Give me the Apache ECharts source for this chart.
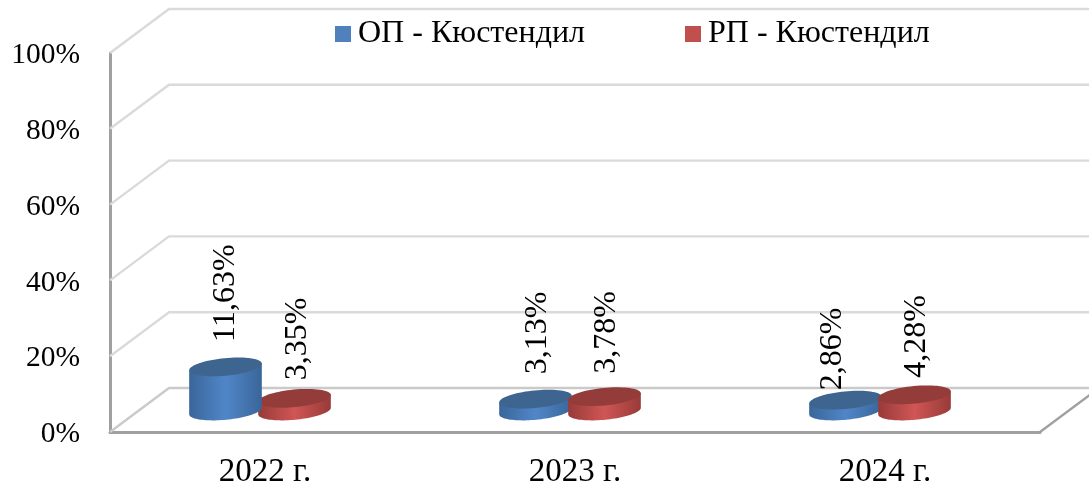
<!DOCTYPE html>
<html><head><meta charset="utf-8">
<style>html,body{margin:0;padding:0;background:#fff}#c{width:1089px;height:484px}</style>
<script src="https://cdn.jsdelivr.net/npm/echarts@6/dist/echarts.min.js"></script>
</head><body><div id="c"></div>
<script>
const categories = ['2022 г.', '2023 г.', '2024 г.'];
const yTicks = [0, 20, 40, 60, 80, 100];
const seriesOP = [11.63, 3.13, 2.86];
const seriesRP = [3.35, 3.78, 4.28];
const nameOP = 'ОП - Кюстендил';
const nameRP = 'РП - Кюстендил';
// label placement tweaks (style only, px): gap above the cylinder top, sideways shift
const gapOP = [25, 25, 10], gapRP = [18, 23, 17];
const shiftOP = [0, 2, -13], shiftRP = [3, 2, 2];

const FONT = '"Liberation Serif","Times New Roman",serif';
const depthX = 59, depthY = -44, baseLift = 21, groupShift = -5, tilt = 5.5 * Math.PI / 180;

function ell(cx, cy, rx, ry, a0, a1, n) {
  const pts = [], c = Math.cos(tilt), s = Math.sin(tilt);
  for (let i = 0; i <= n; i++) {
    const t = a0 + (a1 - a0) * i / n, x = rx * Math.cos(t), y = ry * Math.sin(t);
    pts.push([cx + x * c + y * s, cy - x * s + y * c]);
  }
  return pts;
}
function grad(mid, edge) {
  return { type: 'linear', x: 0, y: 0, x2: 1, y2: 0, colorStops: [
    { offset: 0, color: edge }, { offset: 0.5, color: mid }, { offset: 1, color: edge }] };
}
function cylinder(side, mid, edge, top, gaps, shifts) {
  return function (params, api) {
    const i = api.value(0), v = api.value(1);
    const p = api.coord([i, v]), p0 = api.coord([i, 0]);
    const band = api.size([1, 0])[0];
    const rx = band * 0.1177, ry = rx * 0.24;
    const cx = p[0] + groupShift + side * band * 0.1113;
    const yBase = p0[1] - baseLift, yTop = p[1] - baseLift;
    const body = ell(cx, yTop, rx, ry, Math.PI, Math.PI, 1).slice(0, 1)
      .concat(ell(cx, yBase, rx, ry, Math.PI, 0, 48))
      .concat(ell(cx, yTop, rx, ry, 0, 0, 1).slice(0, 1));
    const z2 = Math.round(v * 100);
    return { type: 'group', children: [
      { type: 'polygon', z2, shape: { points: body }, style: { fill: grad(mid, edge) } },
      { type: 'polygon', z2: z2 + 1, shape: { points: ell(cx, yTop, rx, ry, 0, Math.PI * 2, 72) }, style: { fill: top } },
      { type: 'text', z2: 2000, x: cx + shifts[i], y: yTop - gaps[i], rotation: Math.PI / 2,
        style: { text: v.toFixed(2).replace('.', ',') + '%', font: '32px ' + FONT, fill: '#000', align: 'left', verticalAlign: 'middle' } }
    ] };
  };
}
function wall(params, api) {
  const v = api.value(0), cs = params.coordSys;
  const y = api.coord([0, v])[1], x0 = cs.x, x1 = cs.x + cs.width;
  const line = (pts, col) => ({ type: 'polyline', z2: v === 0 ? 1 : 0, shape: { points: pts }, style: { stroke: col, lineWidth: 2.4, fill: 'none' } });
  const kids = [line([[x0, y], [x0 + depthX, y + depthY], [x1 + depthX, y + depthY]], v === 0 ? '#cacaca' : '#dadada')];
  if (v === 0) kids.push(line([[x1, y], [x1 + depthX, y + depthY]], '#a0a0a0'));
  return { type: 'group', children: kids };
}
const chart = echarts.init(document.getElementById('c'), null, { renderer: 'canvas' });
chart.setOption({
  animation: false,
  backgroundColor: '#fff',
  legend: {
    data: [{ name: nameOP, itemStyle: { color: '#4f81bd' } }, { name: nameRP, itemStyle: { color: '#c0504d' } }],
    left: 335, top: 18, padding: 0, icon: 'rect', itemWidth: 16, itemHeight: 16, itemGap: 100,
    textStyle: { fontFamily: FONT, fontSize: 32, color: '#000', padding: [2, 0, 0, 2] }
  },
  grid: { left: 110, top: 53, width: 930, height: 379, containLabel: false, outerBoundsMode: 'none' },
  xAxis: { type: 'category', data: categories,
    axisLine: { show: true, lineStyle: { color: '#a0a0a0', width: 3 } }, axisTick: { show: false },
    axisLabel: { fontFamily: FONT, fontSize: 33, color: '#000', margin: 24 } },
  yAxis: { type: 'value', min: 0, max: 100, interval: 20,
    axisLine: { show: true, lineStyle: { color: '#a0a0a0', width: 3 } }, axisTick: { show: false }, splitLine: { show: false },
    axisLabel: { margin: 30, formatter: '{t|{value}%}',
      rich: { t: { fontFamily: FONT, fontSize: 29.5, color: '#000', padding: [5, 0, 0, 0] } } } },
  series: [
    { type: 'custom', name: 'walls', silent: true, z: 1, encode: { y: 0 }, data: yTicks.map(v => [v]), renderItem: wall, clip: false },
    { type: 'custom', name: nameOP, z: 3, itemStyle: { color: '#4f81bd' }, clip: false, encode: { x: 0, y: 1 },
      data: seriesOP.map((v, i) => [i, v]), renderItem: cylinder(-1, '#5086c8', '#3a6699', '#3d6590', gapOP, shiftOP) },
    { type: 'custom', name: nameRP, z: 3, itemStyle: { color: '#c0504d' }, clip: false, encode: { x: 0, y: 1 },
      data: seriesRP.map((v, i) => [i, v]), renderItem: cylinder(1, '#cf5654', '#983b39', '#943c3a', gapRP, shiftRP) }
  ]
});
</script></body></html>
